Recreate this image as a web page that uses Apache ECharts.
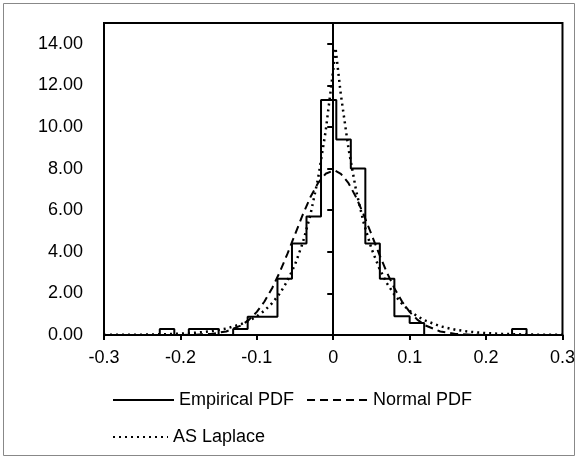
<!DOCTYPE html>
<html><head><meta charset="utf-8">
<script src="https://cdn.jsdelivr.net/npm/echarts@6/dist/echarts.min.js"></script>
<style>html,body{margin:0;padding:0;background:#fff}#c{width:578px;height:459px}</style>
</head><body><div id="c"></div>
<script>
// Histogram bin edges (left edges + final right edge) and empirical densities
const binEdges = [-0.227,-0.208,-0.189,-0.169,-0.150,-0.131,-0.112,-0.093,-0.073,-0.054,-0.035,-0.016,0.004,0.023,0.042,0.061,0.080,0.100,0.119,0.138,0.157,0.176,0.196,0.215,0.234,0.253];
const empiricalPdf = [0.29,0,0.29,0.29,0,0.29,0.88,0.88,2.7,4.4,5.7,11.3,9.4,8.0,4.4,2.7,0.9,0.58,0,0,0,0,0,0,0.29];
// Fitted curves read at these x positions
const curveX = [-0.30,-0.28,-0.26,-0.24,-0.22,-0.20,-0.18,-0.16,-0.14,-0.12,-0.11,-0.10,-0.09,-0.08,-0.07,-0.06,-0.05,-0.04,-0.03,-0.02,-0.01,0.00,0.003,0.01,0.02,0.03,0.04,0.05,0.06,0.07,0.08,0.09,0.10,0.11,0.12,0.14,0.16,0.18,0.20,0.22,0.24,0.26,0.28,0.30];
const normalPdf = [0,0,0,0,0.001,0.003,0.014,0.052,0.17,0.47,0.74,1.11,1.61,2.25,3.02,3.90,4.84,5.77,6.62,7.30,7.75,7.90,7.89,7.75,7.30,6.62,5.77,4.84,3.90,3.02,2.25,1.61,1.11,0.74,0.47,0.17,0.052,0.014,0.003,0.001,0,0,0,0];
const laplacePdf = [0.005,0.008,0.013,0.022,0.038,0.064,0.108,0.18,0.31,0.53,0.69,0.90,1.17,1.53,1.99,2.60,3.39,4.42,5.76,7.50,9.78,12.75,13.8,11.54,8.95,6.93,5.37,4.16,3.23,2.50,1.94,1.50,1.16,0.90,0.70,0.42,0.25,0.15,0.09,0.055,0.033,0.020,0.012,0.007];
const xTicks = [-0.3,-0.2,-0.1,0,0.1,0.2,0.3];
const yTicks = [0,2,4,6,8,10,12,14];
const seriesNames = ['Empirical PDF','Normal PDF','AS Laplace'];

const empData = [[-0.3,0]];
for (let i = 0; i < empiricalPdf.length; i++) empData.push([binEdges[i], empiricalPdf[i]]);
empData.push([binEdges[binEdges.length-1], 0]);
empData.push([0.3, 0]);
const normData = curveX.map((x,i)=>[x, normalPdf[i]]);
const lapData = curveX.map((x,i)=>[x, laplacePdf[i]]);

const FONT = '"Liberation Sans", Arial, sans-serif';
const hiddenSymbol = {color:'rgba(0,0,0,0)',borderColor:'rgba(0,0,0,0)',borderWidth:0,opacity:0};
const chart = echarts.init(document.getElementById('c'));
chart.setOption({
  animation:false,
  backgroundColor:'#fff',
  textStyle:{fontFamily:FONT},
  graphic:[{type:'rect',shape:{x:3.5,y:3.5,width:571,height:452},style:{fill:'none',stroke:'#888',lineWidth:1},silent:true,z:-1}],
  grid:{left:104,right:13,top:23,bottom:124,show:true,borderColor:'#000',borderWidth:2,backgroundColor:'transparent'},
  xAxis:{type:'value',min:-0.3,max:0.3,interval:0.1,splitLine:{show:false},
    axisLine:{onZero:false,lineStyle:{color:'#000',width:2}},
    axisTick:{show:true,length:5,customValues:xTicks,lineStyle:{color:'#000',width:2}},
    axisLabel:{customValues:xTicks,color:'#000',fontSize:18,margin:14,fontFamily:FONT}},
  yAxis:[
    {type:'value',min:0,max:15,position:'left',splitLine:{show:false},
     axisLine:{show:true,onZero:false,lineStyle:{color:'#000',width:2}},
     axisTick:{show:false},
     axisLabel:{customValues:yTicks,formatter:v=>v.toFixed(2),color:'#000',fontSize:18,margin:21,fontFamily:FONT}},
    {type:'value',min:0,max:15,position:'left',splitLine:{show:false},
     axisLine:{show:true,onZero:true,onZeroAxisIndex:0,lineStyle:{color:'#000',width:2}},
     axisTick:{show:true,customValues:yTicks,length:6,lineStyle:{color:'#000',width:2}},
     axisLabel:{show:false}}
  ],
  legend:[
    {data:[seriesNames[0],seriesNames[1]],left:112,top:391,padding:0,itemWidth:61,itemHeight:14,itemGap:12,
     itemStyle:hiddenSymbol,textStyle:{fontSize:18,color:'#000',fontFamily:FONT}},
    {data:[seriesNames[2]],left:112,top:428,padding:0,itemWidth:55,itemHeight:14,
     itemStyle:hiddenSymbol,textStyle:{fontSize:18,color:'#000',fontFamily:FONT}}
  ],
  series:[
    {name:seriesNames[0],type:'line',step:'end',data:empData,symbol:'none',yAxisIndex:0,
     lineStyle:{color:'#000',width:2,type:'solid'},itemStyle:{color:'#000'},z:3},
    {name:seriesNames[1],type:'line',data:normData,symbol:'none',yAxisIndex:0,
     lineStyle:{color:'#000',width:2,type:[8,5]},itemStyle:{color:'#000'},z:4},
    {name:seriesNames[2],type:'line',data:lapData,symbol:'none',yAxisIndex:0,
     lineStyle:{color:'#000',width:2.5,type:[2,4]},itemStyle:{color:'#000'},z:5}
  ]
});
</script></body></html>
